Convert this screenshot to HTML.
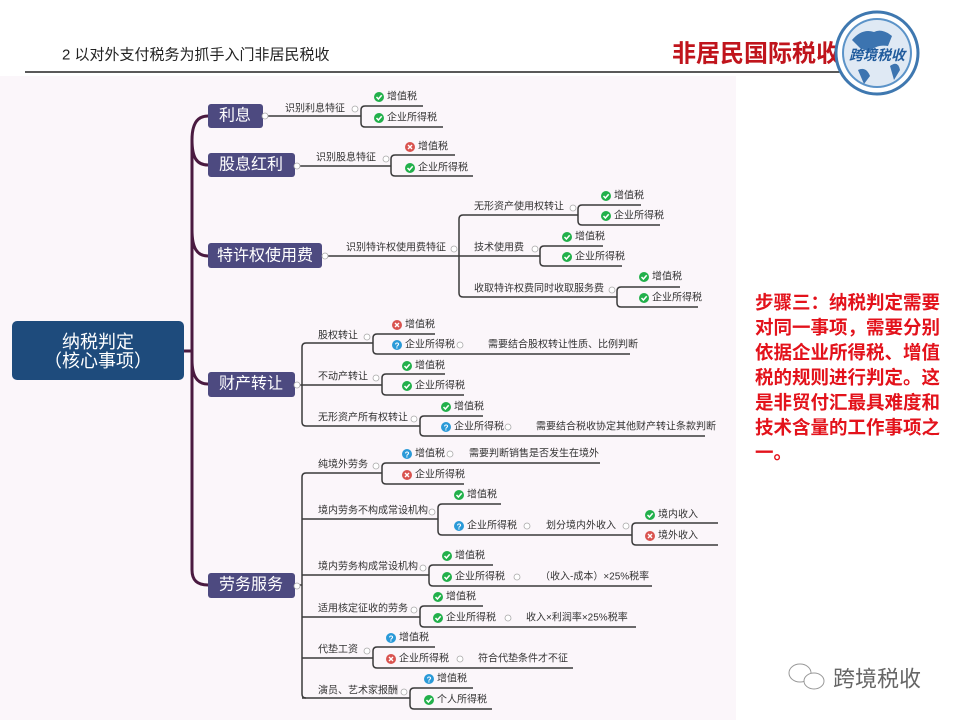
<!DOCTYPE html>
<html><head><meta charset="utf-8"><style>
html,body{margin:0;padding:0;background:#fff;width:960px;height:720px;overflow:hidden}
svg{display:block}
text{font-family:"Liberation Sans","Noto Sans CJK SC",sans-serif}
.s{font-size:10px;fill:#333;dominant-baseline:central}
.b{font-size:16px;fill:#fff;dominant-baseline:central;text-anchor:middle}
.l{stroke:#3a3a3a;stroke-width:1.5;fill:none}
.m{fill:#fff;stroke:#aaa;stroke-width:0.8}
</style></head><body>
<svg width="960" height="720" viewBox="0 0 960 720" xmlns="http://www.w3.org/2000/svg">
<defs>
<g id="ok"><circle r="5" fill="#22b04b"/><path d="M-2.5,0 L-0.6,2 L2.7,-1.8" stroke="#fff" stroke-width="1.5" fill="none"/></g>
<g id="no"><circle r="5" fill="#d9534f"/><path d="M-2,-2 L2,2 M2,-2 L-2,2" stroke="#fff" stroke-width="1.4"/></g>
<g id="q"><circle r="5" fill="#2a9ad8"/><text x="0" y="3.3" font-size="8" font-weight="bold" fill="#fff" text-anchor="middle">?</text></g>
</defs>
<rect x="0" y="76" width="736" height="644" fill="#fbf6fa"/>
<text x="62" y="55" font-size="15" fill="#222" dominant-baseline="central">2 以对外支付税务为抓手入门非居民税收</text>
<line x1="25" y1="72" x2="848" y2="72" stroke="#222" stroke-width="1.5"/>
<text x="672" y="54" font-size="24" font-weight="bold" fill="#c0141c" dominant-baseline="central">非居民国际税收</text>
<circle cx="877" cy="53" r="41" fill="#fff" stroke="#3f78b0" stroke-width="3"/>
<circle cx="877" cy="53" r="35" fill="#5b93c8"/>
<circle cx="877" cy="53" r="33" fill="#dfe9f4"/>
<path d="M852,40 q10,-12 22,-8 q8,-4 18,4 l-4,10 q-12,-2 -18,6 l-10,-4z M858,70 q8,-4 12,6 l-6,8z M890,66 q8,-6 10,4 l-6,10z" fill="#3c74b0"/>
<text x="877" y="55" font-size="14" font-weight="bold" fill="#1f5a9c" text-anchor="middle" dominant-baseline="central" font-style="italic">跨境税收</text>

<rect x="12" y="321" width="172" height="59" rx="5" fill="#1e4b7c"/>
<text x="98" y="342" font-size="18" fill="#fff" text-anchor="middle" dominant-baseline="central">纳税判定</text>
<text x="98" y="361" font-size="18" fill="#fff" text-anchor="middle" dominant-baseline="central">（核心事项）</text>
<g stroke="#4a1a40" stroke-width="3" fill="none">
<path d="M184,351 H192"/>
<path d="M208,116 C197,116 192,124 192,140 V570 C192,580 197,585 208,585"/>
<path d="M192,140 C192,158 197,165 208,165"/>
<path d="M192,230 C192,248 197,256 208,256"/>
<path d="M192,360 C192,376 197,384 208,384"/>
</g>
<rect x="208" y="104" width="55" height="24" rx="3" fill="#4d4a80"/><text class="b" x="235" y="116">利息</text>
<rect x="208" y="153" width="87" height="24" rx="3" fill="#4d4a80"/><text class="b" x="251" y="165">股息红利</text>
<rect x="208" y="243" width="114" height="25" rx="3" fill="#4d4a80"/><text class="b" x="265" y="256">特许权使用费</text>
<rect x="208" y="372" width="87" height="25" rx="3" fill="#4d4a80"/><text class="b" x="251" y="384">财产转让</text>
<rect x="208" y="573" width="87" height="25" rx="3" fill="#4d4a80"/><text class="b" x="251" y="585">劳务服务</text>

<g class="l">
<path d="M263,116 H361"/><path d="M365,106 Q361,106 361,110 V123 Q361,127 365,127"/>
<path d="M365,106 H423 M365,127 H443"/>
<path d="M295,166 H391"/><path d="M395,155 Q391,155 391,159 V172 Q391,176 395,176"/>
<path d="M395,155 H455 M395,176 H473"/>
<path d="M322,256 H540"/><path d="M463,215 Q459,215 459,219 V293 Q459,297 463,297"/>
<path d="M463,215 H578"/><path d="M582,205 Q578,205 578,209 V221 Q578,225 582,225"/><path d="M582,205 H641 M582,225 H660"/>
<path d="M544,246 Q540,246 540,250 V262 Q540,266 544,266"/><path d="M544,246 H603 M544,266 H622"/>
<path d="M463,297 H617"/><path d="M621,287 Q617,287 617,291 V303 Q617,307 621,307"/><path d="M621,287 H680 M621,307 H698"/>
<path d="M295,385 H302"/><path d="M306,343 Q302,343 302,347 V422 Q302,426 306,426"/>
<path d="M306,343 H373"/><path d="M377,334 Q373,334 373,338 V350 Q373,354 377,354"/><path d="M377,334 H435 M377,354 H630"/>
<path d="M302,385 H382"/><path d="M386,374 Q382,374 382,378 V391 Q382,395 386,395"/><path d="M386,374 H445 M386,395 H464"/>
<path d="M306,426 H420"/><path d="M424,416 Q420,416 420,420 V432 Q420,436 424,436"/><path d="M424,416 H483 M424,436 H705"/>
<path d="M295,585 H302"/><path d="M306,473 Q302,473 302,477 V694 Q302,698 306,698"/>
<path d="M306,473 H382"/><path d="M386,463 Q382,463 382,467 V480 Q382,484 386,484"/><path d="M386,463 H600 M386,484 H464"/>
<path d="M302,519 H438"/><path d="M442,504 Q438,504 438,508 V531 Q438,535 442,535"/><path d="M442,504 H501 M442,535 H632"/>
<path d="M636,523 Q632,523 632,527 V541 Q632,545 636,545"/><path d="M636,523 H718 M636,545 H718"/>
<path d="M302,575 H429"/><path d="M433,565 Q429,565 429,569 V582 Q429,586 433,586"/><path d="M433,565 H493 M433,586 H652"/>
<path d="M302,617 H420"/><path d="M424,606 Q420,606 420,610 V623 Q420,627 424,627"/><path d="M424,606 H483 M424,627 H636"/>
<path d="M302,658 H373"/><path d="M377,647 Q373,647 373,651 V664 Q373,668 377,668"/><path d="M377,647 H435 M377,668 H573"/>
<path d="M302,698 H410"/><path d="M414,688 Q410,688 410,692 V705 Q410,709 414,709"/><path d="M414,688 H473 M414,709 H492"/>
</g>

<g class="m">
<circle cx="265" cy="116" r="3"/><circle cx="297" cy="166" r="3"/><circle cx="325" cy="256" r="3"/><circle cx="297" cy="385" r="3"/><circle cx="297" cy="586" r="3"/>
<circle cx="355" cy="109" r="3"/><circle cx="386" cy="159" r="3"/><circle cx="454" cy="249" r="3"/><circle cx="573" cy="208" r="3"/><circle cx="535" cy="249" r="3"/><circle cx="612" cy="290" r="3"/>
<circle cx="367" cy="337" r="3"/><circle cx="376" cy="378" r="3"/><circle cx="414" cy="419" r="3"/><circle cx="460" cy="345" r="3"/><circle cx="508" cy="427" r="3"/>
<circle cx="376" cy="466" r="3"/><circle cx="450" cy="454" r="3"/><circle cx="432" cy="512" r="3"/><circle cx="527" cy="526" r="3"/><circle cx="626" cy="526" r="3"/>
<circle cx="423" cy="568" r="3"/><circle cx="517" cy="577" r="3"/><circle cx="414" cy="610" r="3"/><circle cx="508" cy="618" r="3"/><circle cx="367" cy="651" r="3"/><circle cx="460" cy="659" r="3"/><circle cx="404" cy="692" r="3"/>
</g>

<text class="s" x="285" y="109">识别利息特征</text>
<text class="s" x="316" y="158">识别股息特征</text>
<text class="s" x="346" y="248">识别特许权使用费特征</text>
<text class="s" x="474" y="207">无形资产使用权转让</text>
<text class="s" x="474" y="248">技术使用费</text>
<text class="s" x="474" y="289">收取特许权费同时收取服务费</text>
<text class="s" x="318" y="336">股权转让</text>
<text class="s" x="318" y="377">不动产转让</text>
<text class="s" x="318" y="418">无形资产所有权转让</text>
<text class="s" x="318" y="465">纯境外劳务</text>
<text class="s" x="318" y="511">境内劳务不构成常设机构</text>
<text class="s" x="318" y="567">境内劳务构成常设机构</text>
<text class="s" x="318" y="609">适用核定征收的劳务</text>
<text class="s" x="318" y="650">代垫工资</text>
<text class="s" x="318" y="691">演员、艺术家报酬</text>

<use href="#ok" x="379" y="97"/><text class="s" x="387" y="97">增值税</text>
<use href="#ok" x="379" y="118"/><text class="s" x="387" y="118">企业所得税</text>
<use href="#no" x="410" y="147"/><text class="s" x="418" y="147">增值税</text>
<use href="#ok" x="410" y="168"/><text class="s" x="418" y="168">企业所得税</text>
<use href="#ok" x="606" y="196"/><text class="s" x="614" y="196">增值税</text>
<use href="#ok" x="606" y="216"/><text class="s" x="614" y="216">企业所得税</text>
<use href="#ok" x="567" y="237"/><text class="s" x="575" y="237">增值税</text>
<use href="#ok" x="567" y="257"/><text class="s" x="575" y="257">企业所得税</text>
<use href="#ok" x="644" y="277"/><text class="s" x="652" y="277">增值税</text>
<use href="#ok" x="644" y="298"/><text class="s" x="652" y="298">企业所得税</text>

<use href="#no" x="397" y="325"/><text class="s" x="405" y="325">增值税</text>
<use href="#q" x="397" y="345"/><text class="s" x="405" y="345">企业所得税</text><text class="s" x="488" y="345">需要结合股权转让性质、比例判断</text>
<use href="#ok" x="407" y="366"/><text class="s" x="415" y="366">增值税</text>
<use href="#ok" x="407" y="386"/><text class="s" x="415" y="386">企业所得税</text>
<use href="#ok" x="446" y="407"/><text class="s" x="454" y="407">增值税</text>
<use href="#q" x="446" y="427"/><text class="s" x="454" y="427">企业所得税</text><text class="s" x="536" y="427">需要结合税收协定其他财产转让条款判断</text>

<use href="#q" x="407" y="454"/><text class="s" x="415" y="454">增值税</text><text class="s" x="469" y="454">需要判断销售是否发生在境外</text>
<use href="#no" x="407" y="475"/><text class="s" x="415" y="475">企业所得税</text>
<use href="#ok" x="459" y="495"/><text class="s" x="467" y="495">增值税</text>
<use href="#q" x="459" y="526"/><text class="s" x="467" y="526">企业所得税</text><text class="s" x="546" y="526">划分境内外收入</text>
<use href="#ok" x="650" y="515"/><text class="s" x="658" y="515">境内收入</text>
<use href="#no" x="650" y="536"/><text class="s" x="658" y="536">境外收入</text>
<use href="#ok" x="447" y="556"/><text class="s" x="455" y="556">增值税</text>
<use href="#ok" x="447" y="577"/><text class="s" x="455" y="577">企业所得税</text><text class="s" x="540" y="577">（收入-成本）×25%税率</text>
<use href="#ok" x="438" y="597"/><text class="s" x="446" y="597">增值税</text>
<use href="#ok" x="438" y="618"/><text class="s" x="446" y="618">企业所得税</text><text class="s" x="526" y="618">收入×利润率×25%税率</text>
<use href="#q" x="391" y="638"/><text class="s" x="399" y="638">增值税</text>
<use href="#no" x="391" y="659"/><text class="s" x="399" y="659">企业所得税</text><text class="s" x="478" y="659">符合代垫条件才不征</text>
<use href="#q" x="429" y="679"/><text class="s" x="437" y="679">增值税</text>
<use href="#ok" x="429" y="700"/><text class="s" x="437" y="700">个人所得税</text>

<g font-size="18.5" font-weight="bold" fill="#e3121b">
<text x="755" y="309">步骤三：纳税判定需要</text>
<text x="755" y="334">对同一事项，需要分别</text>
<text x="755" y="359">依据企业所得税、增值</text>
<text x="755" y="384">税的规则进行判定。这</text>
<text x="755" y="409">是非贸付汇最具难度和</text>
<text x="755" y="434">技术含量的工作事项之</text>
<text x="755" y="459">一。</text>
</g>
<g fill="#fff" stroke="#999" stroke-width="1">
<ellipse cx="800" cy="673" rx="11" ry="9"/>
<ellipse cx="814" cy="681" rx="10" ry="8"/>
</g>
<text x="833" y="679" font-size="22" fill="#666" dominant-baseline="central">跨境税收</text>
</svg>
</body></html>
